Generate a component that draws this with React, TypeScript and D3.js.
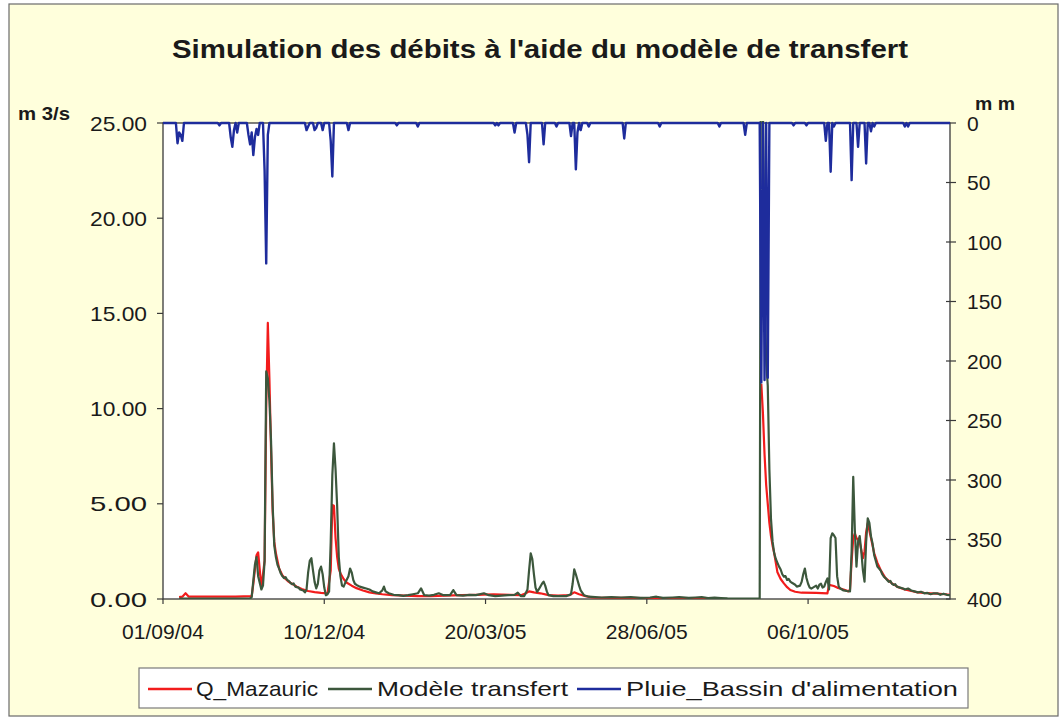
import React from "react";
import * as d3 from "d3";

// ---------- DATA ----------
const START = "2004-09-01";
const END_OFFSET = 488; // last day shown (offset from START)
const xTickOffsets = [0, 100, 200, 300, 400];
const leftTicks = [0, 5, 10, 15, 20, 25];
const rightTicks = [0, 50, 100, 150, 200, 250, 300, 350, 400];

// Q_Mazauric (m3/s) — day offsets and values (null = missing data)
const qDays = [10, 12, 14, 16, 30, 45, 55, 56, 58, 59, 61, 63, 64, 65, 66, 67, 68, 69, 70, 72, 74, 76, 78, 80, 83, 86, 90, 94, 98, 102, 104, 105, 106, 107, 108, 109, 110, 112, 114, 117, 120, 124, 128, 132, 136, 142, 150, 158, 166, 175, 185, 195, 205, 215, 222, 225, 227, 230, 234, 239, 245, 252, 255, 258, 262, 266, 280, 300, 320, 345, 358, 371, 372, 373, 374, 375, 376, 377, 378, 379, 381, 383, 385, 387, 389, 392, 396, 405, 412, 413, 416, 418, 422, 425, 426, 427, 428, 429, 430, 431, 432, 434, 435, 436, 437, 439, 441, 443, 445, 448, 452, 456, 460, 464, 468, 472, 476, 480, 485, 488];
const qValues = [0.1, 0.12, 0.3, 0.12, 0.12, 0.13, 0.15, 0.8, 2.3, 2.45, 0.6, 2.0, 10, 14.5, 11.5, 7.8, 4.6, 3.0, 2.4, 1.6, 1.25, 1.05, 0.9, 0.8, 0.65, 0.52, 0.42, 0.36, 0.32, 0.3, 1.5, 4.94, 4.9, 3.2, 2.2, 1.6, 1.35, 1.05, 0.85, 0.7, 0.57, 0.45, 0.35, 0.3, 0.25, 0.2, 0.18, 0.15, 0.15, 0.18, 0.2, 0.22, 0.25, 0.22, 0.2, 0.3, 0.4, 0.35, 0.3, 0.2, 0.18, 0.2, 0.35, 0.25, 0.15, 0.08, 0.06, 0.05, 0.05, 0.04, null, 11.3, 9.75, 7.6, 6.0, 5.0, 4.0, 3.3, 2.8, 2.4, 1.4, 1.05, 0.82, 0.62, 0.47, 0.38, 0.33, 0.32, 0.3, 0.74, 0.68, 0.6, 0.5, 0.4, 0.5, 2.0, 3.2, 3.45, 3.2, 3.1, 3.0, 2.14, 2.5, 3.5, 3.98, 3.2, 2.4, 1.9, 1.52, 1.1, 0.82, 0.62, 0.5, 0.42, 0.35, 0.32, 0.3, 0.28, 0.25, 0.22];

// Modèle transfert (m3/s)
const mDays = [10, 30, 54, 55, 57, 58, 59, 61, 62, 63, 64, 65, 66, 67, 68, 69, 70, 71, 72, 73, 74, 75, 76, 77, 78, 79, 80, 81, 82, 84, 85, 87, 88, 89, 90, 91, 92, 93, 94, 95, 96, 97, 98, 99, 100, 101, 102, 103, 104, 105, 106, 107, 108, 109, 110, 111, 112, 113, 115, 116, 117, 118, 119, 120, 122, 124, 126, 128, 130, 132, 134, 136, 137, 138, 140, 143, 146, 149, 152, 155, 158, 160, 162, 165, 168, 171, 174, 178, 180, 182, 186, 190, 194, 199, 202, 206, 210, 214, 218, 220, 222, 224, 226, 227, 228, 229, 230, 231, 232, 233, 235, 236, 237, 238, 239, 242, 246, 250, 253, 254, 255, 256, 257, 258, 259, 261, 264, 268, 272, 278, 284, 290, 296, 302, 306, 310, 316, 320, 326, 330, 334, 338, 342, 346, 350, 360, 370, 371, 372, 373, 374, 375, 376, 377, 378, 379, 380, 381, 382, 383, 384, 385, 386, 387, 388, 389, 390, 392, 393, 395, 396, 397, 398, 399, 400, 401, 402, 403, 405, 406, 407, 408, 409, 410, 411, 412, 413, 414, 415, 416, 417, 418, 419, 420, 422, 424, 426, 427, 428, 429, 430, 431, 432, 433, 434, 435, 436, 437, 438, 439, 440, 441, 442, 443, 444, 445, 446, 447, 448, 449, 450, 451, 452, 453, 454, 455, 457, 459, 460, 462, 464, 466, 468, 470, 472, 474, 476, 478, 480, 482, 484, 486, 488];
const mValues = [0.02, 0.02, 0.03, 0.1, 1.8, 2.2, 1.2, 0.5, 0.7, 2.0, 11.95, 11.6, 10.4, 8.3, 4.9, 2.8, 2.2, 1.8, 1.6, 1.35, 1.2, 1.1, 1.15, 1.0, 0.95, 0.85, 0.78, 0.82, 0.65, 0.6, 0.5, 0.45, 0.35, 0.5, 1.4, 2.0, 2.14, 1.5, 0.9, 0.56, 0.8, 1.5, 1.7, 1.3, 0.6, 0.2, 0.25, 0.4, 3.0, 6.5, 8.18, 6.8, 4.85, 2.2, 1.2, 0.7, 0.65, 0.85, 1.2, 1.6, 1.4, 1.0, 0.8, 0.74, 0.65, 0.6, 0.55, 0.5, 0.4, 0.35, 0.3, 0.45, 0.65, 0.4, 0.3, 0.22, 0.2, 0.16, 0.2, 0.25, 0.3, 0.56, 0.2, 0.18, 0.22, 0.3, 0.2, 0.2, 0.47, 0.2, 0.18, 0.22, 0.2, 0.3, 0.2, 0.15, 0.18, 0.2, 0.22, 0.33, 0.15, 0.15, 0.5, 1.5, 2.4, 2.1, 1.3, 0.6, 0.38, 0.5, 0.8, 0.91, 0.7, 0.4, 0.2, 0.15, 0.15, 0.15, 0.25, 0.8, 1.56, 1.3, 1.0, 0.7, 0.45, 0.2, 0.12, 0.1, 0.08, 0.1, 0.08, 0.1, 0.06, 0.08, 0.12, 0.06, 0.08, 0.1, 0.06, 0.08, 0.1, 0.05, 0.07, 0.05, 0.03, 0.02, 0.02, 40, 26, 17, 12.5, 11.2, 6.8, 4.2, 3.0, 2.4, 2.1, 1.9, 1.7, 1.55, 1.3, 1.17, 1.2, 1.0, 1.05, 0.91, 0.85, 0.75, 0.65, 0.7, 0.9, 1.3, 1.6, 1.1, 0.8, 0.6, 0.55, 0.6, 0.7, 0.55, 0.75, 0.8, 0.6, 0.65, 0.9, 1.08, 0.5, 3.2, 3.45, 3.35, 3.2, 1.2, 0.65, 0.55, 0.45, 0.42, 0.4, 2.5, 6.42, 3.6, 1.7, 3.0, 3.3, 2.5, 1.5, 0.91, 3.0, 4.24, 4.0, 3.3, 2.9, 2.3, 2.0, 1.7, 1.6, 1.5, 1.3, 1.17, 1.1, 1.0, 0.9, 0.95, 0.8, 0.74, 0.78, 0.65, 0.6, 0.55, 0.5, 0.55, 0.45, 0.4, 0.35, 0.38, 0.3, 0.32, 0.25, 0.3, 0.3, 0.22, 0.28, 0.22, 0.2];

// Pluie_Bassin d'alimentation (mm) — rainy days only, every other day is 0 mm
const rainDays = [9, 10, 11, 12, 35, 42, 43, 44, 46, 53, 54, 55, 56, 57, 58, 59, 63, 64, 65, 89, 90, 94, 95, 99, 104, 105, 115, 145, 158, 206, 208, 218, 226, 227, 236, 244, 253, 256, 257, 259, 264, 286, 308, 345, 361, 371, 373, 375, 391, 399, 411, 414, 416, 427, 431, 436, 439, 441, 460, 462];
const rainMm = [17, 8, 10, 15, 2, 12, 20, 6, 8, 10, 18, 8, 27, 12, 5, 10, 40, 118, 10, 6, 3, 6, 4, 6, 15, 45, 6, 2, 3, 2, 2, 8, 10, 33, 18, 3, 11, 39, 8, 6, 3, 13, 3, 3, 10, 218, 216, 214, 2, 2, 15, 41, 3, 48, 20, 34, 7, 3, 3, 3];

const seriesNames = ["Q_Mazauric", "Modèle transfert", "Pluie_Bassin d'alimentation"];
const seriesColors = ["#F21C1C", "#3C573C", "#1E2C9C"];

// ---------- LAYOUT ----------
const W = 1064, H = 719;
const M = { left: 163, right: 950, top: 123, bottom: 599 };
const FONT = "'Liberation Sans', Arial, Helvetica, sans-serif";

const start = new Date(START + "T00:00:00Z");
const dayDate = (o: number) => d3.utcDay.offset(start, o);

export default function App() {
  const x = d3.scaleUtc().domain([start, dayDate(END_OFFSET)]).range([M.left, M.right]);
  const yL = d3.scaleLinear().domain([0, 25]).range([M.bottom, M.top]);
  const yR = d3.scaleLinear().domain([0, 400]).range([M.top, M.bottom]);
  const fmt = d3.utcFormat("%d/%m/%y");

  const qPts = qDays.map((d, i) => [dayDate(d), qValues[i]] as [Date, number | null]);
  const mPts = mDays.map((d, i) => [dayDate(d), mValues[i]] as [Date, number | null]);
  const rainMap = new Map<number, number>(rainDays.map((d, i) => [d, rainMm[i]]));
  const rPts = d3.range(0, END_OFFSET + 1).map((d) => [dayDate(d), rainMap.get(d) ?? 0] as [Date, number | null]);

  const lineL = d3.line<[Date, number | null]>()
    .defined((d) => d[1] != null)
    .x((d) => x(d[0]))
    .y((d) => yL(d[1] as number));
  const lineR = d3.line<[Date, number | null]>()
    .x((d) => x(d[0]))
    .y((d) => yR(d[1] as number));

  const axisColor = "#3a3a3a";
  const textColor = "#1a1a1a";

  const legendItems = [
    { name: seriesNames[0], color: seriesColors[0], lx: 148, tx: 196, tw: 122 },
    { name: seriesNames[1], color: seriesColors[1], lx: 328, tx: 377, tw: 191 },
    { name: seriesNames[2], color: seriesColors[2], lx: 577, tx: 626, tw: 332 },
  ];

  return (
    <svg width={W} height={H} style={{ position: "absolute", left: 0, top: 0 }} fontFamily={FONT}>
      <defs>
        <clipPath id="plotClip">
          <rect x={M.left} y={M.top - 2} width={M.right - M.left} height={M.bottom - M.top + 2} />
        </clipPath>
      </defs>
      <rect x={0} y={0} width={W} height={H} fill="#ffffff" />
      <rect x={9} y={4} width={1049} height={712} fill="#FFFFDC" stroke="#6a6a6a" strokeWidth={1.2} />

      {/* title */}
      <text x={540} y={58} textAnchor="middle" fontSize={25} fontWeight="bold" fill={textColor}
        textLength={736} lengthAdjust="spacingAndGlyphs">
        Simulation des débits à l'aide du modèle de transfert
      </text>

      {/* plot area */}
      <rect x={M.left} y={M.top} width={M.right - M.left} height={M.bottom - M.top} fill="#ffffff" stroke={axisColor} strokeWidth={1.3} />

      {/* axis unit labels */}
      <text x={18} y={120} fontSize={19} fontWeight="bold" fill={textColor} textLength={52} lengthAdjust="spacingAndGlyphs">m 3/s</text>
      <text x={975} y={110} fontSize={19} fontWeight="bold" fill={textColor} textLength={40} lengthAdjust="spacingAndGlyphs">m m</text>

      {/* left axis */}
      {leftTicks.map((t) => (
        <g key={"l" + t}>
          <line x1={M.left - 6} x2={M.left} y1={yL(t)} y2={yL(t)} stroke={axisColor} strokeWidth={1.2} />
          <text x={147} y={yL(t)} dy="0.36em" textAnchor="end" fontSize={21} fill={textColor}
            textLength={57} lengthAdjust="spacingAndGlyphs">{t.toFixed(2)}</text>
        </g>
      ))}

      {/* right axis */}
      {rightTicks.map((t) => (
        <g key={"r" + t}>
          <line x1={M.right - 4} x2={M.right + 6} y1={yR(t)} y2={yR(t)} stroke={axisColor} strokeWidth={1.2} />
          <text x={967} y={yR(t)} dy="0.36em" textAnchor="start" fontSize={21} fill={textColor}>{t}</text>
        </g>
      ))}

      {/* x axis */}
      {xTickOffsets.map((o) => (
        <g key={"x" + o}>
          <line x1={x(dayDate(o))} x2={x(dayDate(o))} y1={M.bottom} y2={M.bottom + 5} stroke={axisColor} strokeWidth={1.2} />
          <text x={x(dayDate(o))} y={639} textAnchor="middle" fontSize={21} fill={textColor}
            textLength={82} lengthAdjust="spacingAndGlyphs">{fmt(dayDate(o))}</text>
        </g>
      ))}

      {/* series */}
      <g clipPath="url(#plotClip)" fill="none" strokeLinejoin="round">
        <path d={lineL(qPts) || ""} stroke={seriesColors[0]} strokeWidth={2.2} />
        <path d={lineL(mPts) || ""} stroke={seriesColors[1]} strokeWidth={2.2} />
        <path d={lineR(rPts) || ""} stroke={seriesColors[2]} strokeWidth={2.4} />
      </g>

      {/* legend */}
      <rect x={139} y={668} width={829} height={40} fill="#ffffff" stroke="#7a7a7a" strokeWidth={1.2} />
      {legendItems.map((it) => (
        <g key={it.name}>
          <line x1={it.lx} x2={it.lx + 44} y1={689} y2={689} stroke={it.color} strokeWidth={2.5} />
          <text x={it.tx} y={696} fontSize={21} fill={textColor} textLength={it.tw} lengthAdjust="spacingAndGlyphs">{it.name}</text>
        </g>
      ))}
    </svg>
  );
}
